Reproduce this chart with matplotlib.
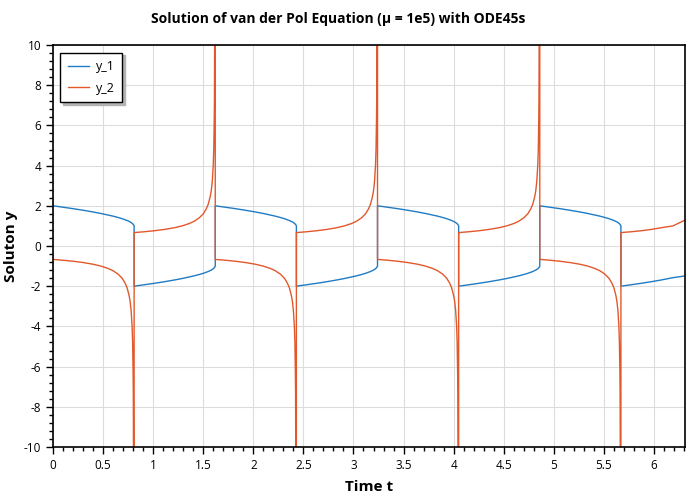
import matplotlib.pyplot as plt
from matplotlib.ticker import MultipleLocator, FormatStrFormatter

# time samples, one row per half cycle (the jump sits at the end of each row)
t = [
    0.0, 0.1, 0.2, 0.3, 0.4, 0.48, 0.55, 0.6, 0.65, 0.69, 0.72, 0.74, 0.76, 0.77, 0.78, 0.79, 0.795, 0.80, 0.802, 0.805, 0.81,
    0.81, 0.91, 1.01, 1.11, 1.21, 1.29, 1.36, 1.41, 1.46, 1.50, 1.53, 1.55, 1.57, 1.58, 1.59, 1.60, 1.605, 1.61, 1.612, 1.615, 1.62,
    1.62, 1.72, 1.82, 1.92, 2.02, 2.10, 2.17, 2.22, 2.27, 2.31, 2.34, 2.36, 2.38, 2.39, 2.40, 2.41, 2.415, 2.42, 2.422, 2.425, 2.43,
    2.43, 2.53, 2.63, 2.73, 2.83, 2.91, 2.98, 3.03, 3.08, 3.12, 3.15, 3.17, 3.19, 3.20, 3.21, 3.22, 3.225, 3.23, 3.232, 3.235, 3.24,
    3.24, 3.34, 3.44, 3.54, 3.64, 3.72, 3.79, 3.84, 3.89, 3.93, 3.96, 3.98, 4.00, 4.01, 4.02, 4.03, 4.035, 4.04, 4.042, 4.045, 4.05,
    4.05, 4.15, 4.25, 4.35, 4.45, 4.53, 4.60, 4.65, 4.70, 4.74, 4.77, 4.79, 4.81, 4.82, 4.83, 4.84, 4.845, 4.85, 4.852, 4.855, 4.86,
    4.86, 4.96, 5.06, 5.16, 5.26, 5.34, 5.41, 5.46, 5.51, 5.55, 5.58, 5.60, 5.62, 5.63, 5.64, 5.65, 5.655, 5.66, 5.662, 5.665, 5.67,
    5.67, 5.77, 5.87, 5.97, 6.07, 6.19, 6.31,
]

y_1 = [
    2.0, 1.931, 1.858, 1.779, 1.693, 1.617, 1.543, 1.485, 1.419, 1.36, 1.307, 1.269, 1.223, 1.198, 1.168, 1.132, 1.11, 1.082, 1.07, 1.045, 1.0,
    -2.0, -1.931, -1.858, -1.779, -1.693, -1.617, -1.543, -1.485, -1.419, -1.36, -1.307, -1.269, -1.223, -1.198, -1.168, -1.132, -1.11, -1.082, -1.07, -1.045, -1.0,
    2.0, 1.931, 1.858, 1.779, 1.693, 1.617, 1.543, 1.485, 1.419, 1.36, 1.307, 1.269, 1.223, 1.198, 1.168, 1.132, 1.11, 1.082, 1.07, 1.045, 1.0,
    -2.0, -1.931, -1.858, -1.779, -1.693, -1.617, -1.543, -1.485, -1.419, -1.36, -1.307, -1.269, -1.223, -1.198, -1.168, -1.132, -1.11, -1.082, -1.07, -1.045, -1.0,
    2.0, 1.931, 1.858, 1.779, 1.693, 1.617, 1.543, 1.485, 1.419, 1.36, 1.307, 1.269, 1.223, 1.198, 1.168, 1.132, 1.11, 1.082, 1.07, 1.045, 1.0,
    -2.0, -1.931, -1.858, -1.779, -1.693, -1.617, -1.543, -1.485, -1.419, -1.36, -1.307, -1.269, -1.223, -1.198, -1.168, -1.132, -1.11, -1.082, -1.07, -1.045, -1.0,
    2.0, 1.931, 1.858, 1.779, 1.693, 1.617, 1.543, 1.485, 1.419, 1.36, 1.307, 1.269, 1.223, 1.198, 1.168, 1.132, 1.11, 1.082, 1.07, 1.045, 1.0,
    -2.0, -1.931, -1.858, -1.779, -1.693, -1.575, -1.49,
]

y_2 = [
    -0.667, -0.708, -0.758, -0.822, -0.907, -1.001, -1.117, -1.232, -1.40, -1.601, -1.846, -2.08, -2.467, -2.75, -3.207, -4.02, -4.78, -6.34, -7.38, -11.4, -60.0,
    0.667, 0.708, 0.758, 0.822, 0.907, 1.001, 1.117, 1.232, 1.40, 1.601, 1.846, 2.08, 2.467, 2.75, 3.207, 4.02, 4.78, 6.34, 7.38, 11.4, 60.0,
    -0.667, -0.708, -0.758, -0.822, -0.907, -1.001, -1.117, -1.232, -1.40, -1.601, -1.846, -2.08, -2.467, -2.75, -3.207, -4.02, -4.78, -6.34, -7.38, -11.4, -60.0,
    0.667, 0.708, 0.758, 0.822, 0.907, 1.001, 1.117, 1.232, 1.40, 1.601, 1.846, 2.08, 2.467, 2.75, 3.207, 4.02, 4.78, 6.34, 7.38, 11.4, 60.0,
    -0.667, -0.708, -0.758, -0.822, -0.907, -1.001, -1.117, -1.232, -1.40, -1.601, -1.846, -2.08, -2.467, -2.75, -3.207, -4.02, -4.78, -6.34, -7.38, -11.4, -60.0,
    0.667, 0.708, 0.758, 0.822, 0.907, 1.001, 1.117, 1.232, 1.40, 1.601, 1.846, 2.08, 2.467, 2.75, 3.207, 4.02, 4.78, 6.34, 7.38, 11.4, 60.0,
    -0.667, -0.708, -0.758, -0.822, -0.907, -1.001, -1.117, -1.232, -1.40, -1.601, -1.846, -2.08, -2.467, -2.75, -3.207, -4.02, -4.78, -6.34, -7.38, -11.4, -60.0,
    0.667, 0.708, 0.758, 0.822, 0.907, 1.0, 1.29,
]

plt.rcParams['font.family'] = ['Open Sans', 'DejaVu Sans']
plt.rcParams['axes.unicode_minus'] = False

fig = plt.figure(figsize=(7, 5), dpi=100)
ax = fig.add_axes([0.0757, 0.106, 0.9029, 0.804])

ax.plot(t, y_1, color='#1f7bc4', lw=1.0, label='y_1')
ax.plot(t, y_2, color='#e2582b', lw=1.0, label='y_2')

ax.set_xlim(0, 6.31)
ax.set_ylim(-10, 10)

ax.xaxis.set_major_locator(MultipleLocator(0.5))
ax.xaxis.set_minor_locator(MultipleLocator(0.1))
ax.yaxis.set_major_locator(MultipleLocator(2))
ax.yaxis.set_minor_locator(MultipleLocator(0.4))
ax.xaxis.set_major_formatter(FormatStrFormatter('%g'))

ax.grid(True, which='major', color='#dcdcdc', lw=0.8)
ax.set_axisbelow(True)
ax.tick_params(which='major', direction='out', length=5, width=1, labelsize=8.5, colors='black')
ax.tick_params(which='minor', direction='out', length=3, width=1)
for s in ax.spines.values():
    s.set_linewidth(1.2)

fig.text(0.483, 0.963, 'Solution of van der Pol Equation (\u03bc = 1e5) with ODE45s',
         ha='center', va='center', fontsize=10, fontweight='bold')
ax.set_xlabel('Time t', fontsize=11, fontweight='bold', labelpad=6)
ax.set_ylabel('Soluton y', fontsize=11, fontweight='bold', labelpad=4)

leg = ax.legend(loc='upper left', fancybox=False,
                shadow={'color': '0.7', 'alpha': 1.0}, fontsize=9,
                edgecolor='black', framealpha=1, borderaxespad=0.6,
                handlelength=1.7, handletextpad=0.5, labelspacing=0.7, borderpad=0.6)
leg.get_frame().set_linewidth(1.0)

fig.savefig('out.png', dpi=100)
